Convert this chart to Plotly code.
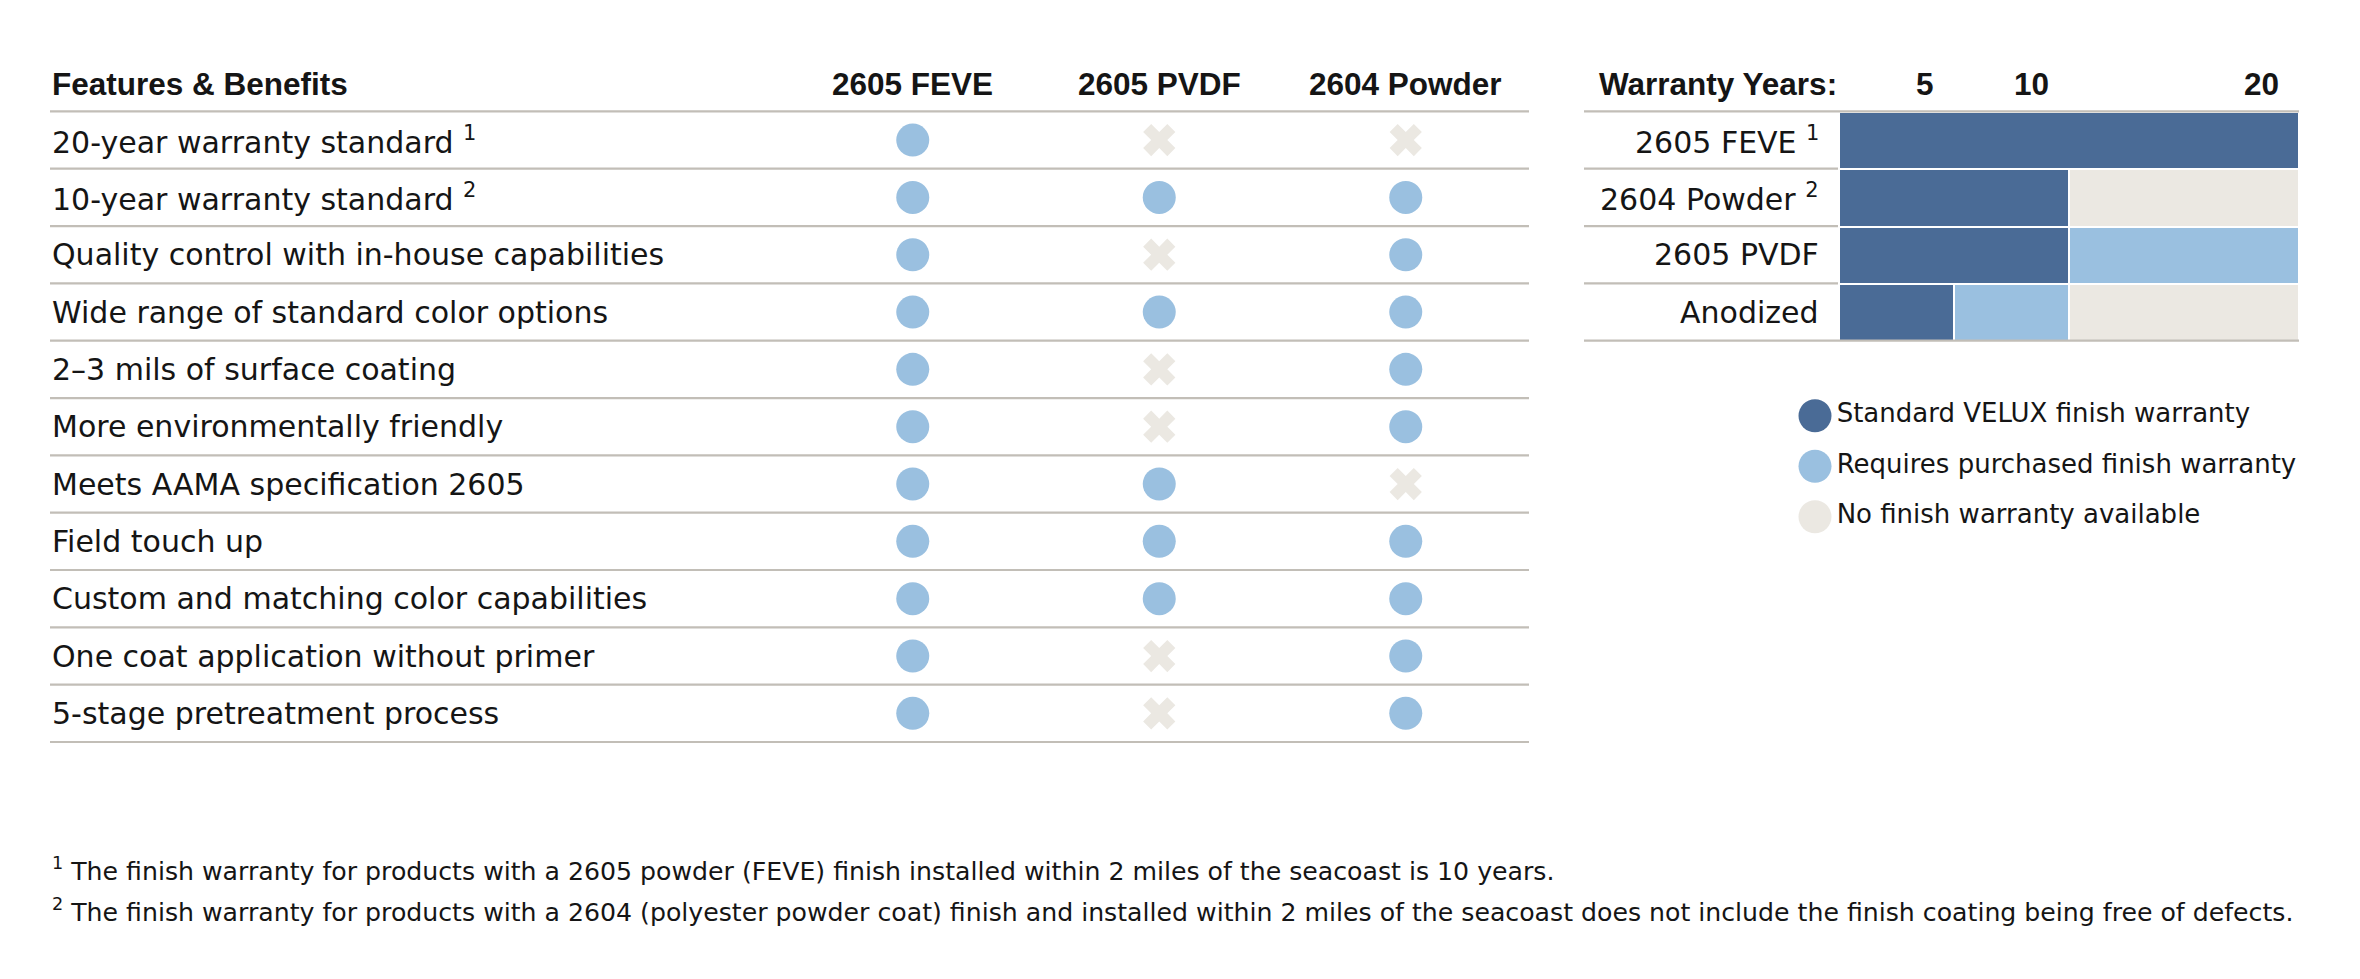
import plotly.graph_objects as go

# page is 2360x979; the html body has an 8px default margin
PAGE_W, PAGE_H = 2360, 979
OFF = 8
W, H = PAGE_W - 2 * OFF, PAGE_H - 2 * OFF

# ---------------- data ----------------
features = [
    "20-year warranty standard <sup>1</sup>",
    "10-year warranty standard <sup>2</sup>",
    "Quality control with in-house capabilities",
    "Wide range of standard color options",
    "2–3 mils of surface coating",
    "More environmentally friendly",
    "Meets AAMA specification 2605",
    "Field touch up",
    "Custom and matching color capabilities",
    "One coat application without primer",
    "5-stage pretreatment process",
]
products = ["2605 FEVE", "2605 PVDF", "2604 Powder"]
has_feve = [1, 1, 1, 1, 1, 1, 1, 1, 1, 1, 1]
has_pvdf = [0, 1, 0, 1, 0, 0, 1, 1, 1, 0, 0]
has_powder = [0, 1, 1, 1, 1, 1, 0, 1, 1, 1, 1]

systems = ["2605 FEVE <sup>1</sup>", "2604 Powder <sup>2</sup>", "2605 PVDF", "Anodized"]
standard_years = [20, 10, 10, 5]
purchased_years = [0, 0, 10, 5]
none_years = [0, 10, 0, 10]
year_ticks = [5, 10, 20]

legend_labels = ["Standard VELUX finish warranty",
                 "Requires purchased finish warranty",
                 "No finish warranty available"]

footnotes = [
    "<sup>1</sup> The finish warranty for products with a 2605 powder (FEVE) finish installed within 2 miles of the seacoast is 10 years.",
    "<sup>2</sup> The finish warranty for products with a 2604 (polyester powder coat) finish and installed within 2 miles of the seacoast does not include the finish coating being free of defects.",
]

# ---------------- styles ----------------
DARK = "#4a6b96"
LIGHT = "#9ac0e0"
BEIGE = "#ebe8e2"
GRID = "#c2beb7"
TXT = "#151515"
BODY = "DejaVu Sans"
HEAD = "Liberation Sans"


def px_x(p):
    return (p - OFF) / W


def px_y(p):
    return 1 - (p - OFF) / H


row_top = 111.4
row_h = (742.0 - row_top) / 11
pad = 0.05

fig = go.Figure()

# ---------- left table (features) ----------
cols = [has_feve, has_pvdf, has_powder]
for j, col in enumerate(cols):
    fig.add_trace(go.Scatter(
        x=[j] * len(col), y=list(range(len(col))),
        mode="markers",
        marker=dict(
            symbol=["circle" if v else "x" for v in col],
            size=[33 if v else 28.5 for v in col],
            color=[LIGHT if v else BEIGE for v in col],
            opacity=1,
            line=dict(width=0),
        ),
        xaxis="x", yaxis="y", showlegend=False, hoverinfo="skip",
    ))

n = len(features)
for k in range(n + 1):
    fig.add_shape(type="line", xref="x", yref="y", x0=-3.5, x1=2.5,
                  y0=k - 0.5, y1=k - 0.5, line=dict(color=GRID, width=2.2))

for i, f in enumerate(features):
    fig.add_annotation(x=-3.5, y=i, xref="x", yref="y", text=f, showarrow=False,
                       xanchor="left", yanchor="middle",
                       font=dict(family=BODY, size=30, color=TXT))

head_y = px_y(84)
fig.add_annotation(x=-3.5, y=head_y, xref="x", yref="paper", text="Features & Benefits",
                   showarrow=False, xanchor="left", yanchor="middle",
                   font=dict(family=HEAD, size=31.5, color=TXT, weight="bold"))
for j, p in enumerate(products):
    fig.add_annotation(x=j, y=head_y, xref="x", yref="paper", text=p,
                       showarrow=False, xanchor="center", yanchor="middle",
                       font=dict(family=HEAD, size=31.5, color=TXT, weight="bold"))

# ---------- right chart (warranty years) ----------
yidx = list(range(len(systems)))
for vals, colr in [(standard_years, DARK), (purchased_years, LIGHT), (none_years, BEIGE)]:
    fig.add_trace(go.Bar(
        orientation="h", x=vals, y=yidx, width=1,
        marker=dict(color=colr, line=dict(color="white", width=2)),
        xaxis="x2", yaxis="y2", showlegend=False, hoverinfo="skip",
    ))

m = len(systems)
left_px = 1584
for k in range(m + 1):
    fig.add_shape(type="line", xref="paper", yref="y2",
                  x0=px_x(left_px), x1=px_x(2299) if k in (0, m) else px_x(1838),
                  y0=k - 0.5, y1=k - 0.5, line=dict(color=GRID, width=2.2))

for i, s in enumerate(systems):
    fig.add_annotation(x=0, y=i, xref="x2", yref="y2", text=s, showarrow=False,
                       xanchor="right", yanchor="middle", xshift=-18,
                       font=dict(family=BODY, size=30, color=TXT))

fig.add_annotation(x=0, y=head_y, xref="x2", yref="paper", text="Warranty Years:",
                   showarrow=False, xanchor="right", yanchor="middle",
                   font=dict(family=HEAD, size=31.5, color=TXT, weight="bold"))
for t in year_ticks:
    fig.add_annotation(x=t, y=head_y, xref="x2", yref="paper", text=str(t),
                       showarrow=False, xanchor="right", yanchor="middle", xshift=-18,
                       font=dict(family=HEAD, size=31.5, color=TXT, weight="bold"))

# ---------- legend (drawn as a small scatter) ----------
fig.add_trace(go.Scatter(
    x=[0] * 3, y=[0, 1, 2], mode="markers+text",
    text=legend_labels, textposition="middle right",
    textfont=dict(family=BODY, size=26, color=TXT),
    marker=dict(size=33, color=[DARK, LIGHT, BEIGE], opacity=1, line=dict(width=0)),
    xaxis="x3", yaxis="y3", showlegend=False, hoverinfo="skip", cliponaxis=False,
))

# ---------- footnotes ----------
for fy, txt in zip([869, 910], footnotes):
    fig.add_annotation(x=px_x(50), y=px_y(fy), xref="paper", yref="paper", text=txt,
                       showarrow=False, xanchor="left", yanchor="middle",
                       font=dict(family=BODY, size=25.2, color=TXT))

hidden = dict(visible=False, showgrid=False, zeroline=False, fixedrange=True)
fig.update_layout(
    width=W, height=H, margin=dict(l=0, r=0, t=0, b=0),
    paper_bgcolor="white", plot_bgcolor="rgba(0,0,0,0)",
    barmode="stack", bargap=0,
    xaxis=dict(hidden, domain=[px_x(50), px_x(1529)], range=[-3.5, 2.5]),
    yaxis=dict(hidden, domain=[px_y(row_top + n * row_h + pad * row_h), px_y(row_top - pad * row_h)],
               range=[n - 0.5 + pad, -0.5 - pad]),
    xaxis2=dict(hidden, domain=[px_x(1839), px_x(2299)], range=[0, 20], anchor="y2"),
    yaxis2=dict(hidden, domain=[px_y(row_top + m * row_h + pad * row_h), px_y(row_top - pad * row_h)],
                range=[m - 0.5 + pad, -0.5 - pad], anchor="x2"),
    xaxis3=dict(hidden, domain=[px_x(1800), px_x(1830)], range=[-1, 1], anchor="y3"),
    yaxis3=dict(hidden, domain=[px_y(542), px_y(390.5)], range=[2.5, -0.5], anchor="x3"),
)

fig.write_html("out.html")
